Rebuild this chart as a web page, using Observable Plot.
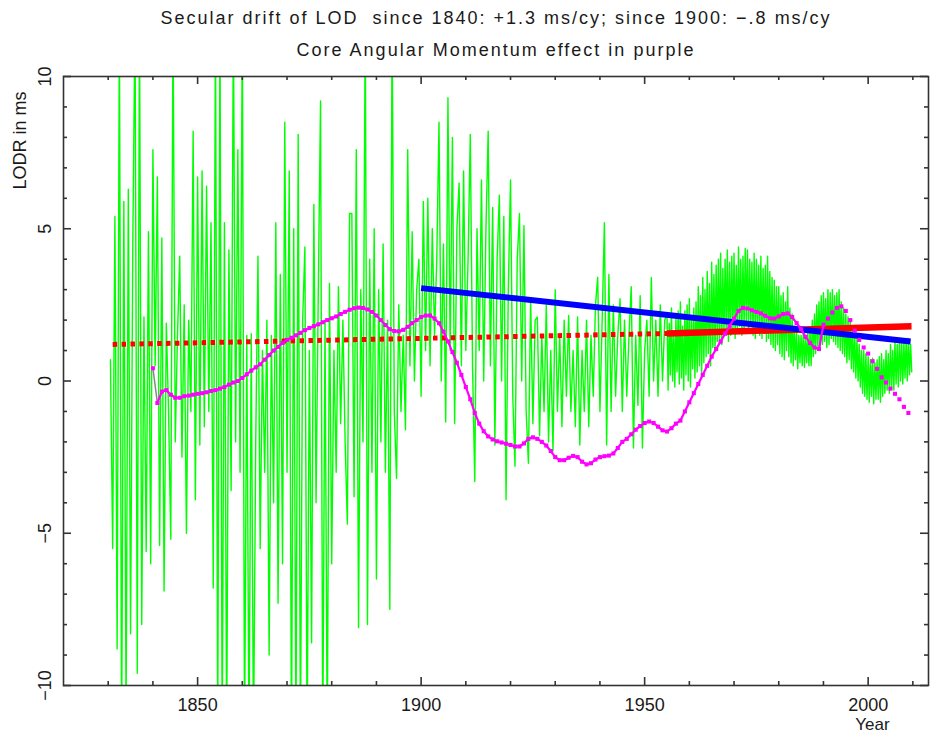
<!DOCTYPE html>
<html><head><meta charset="utf-8">
<script src="https://cdn.jsdelivr.net/npm/d3@7"></script>
<script src="https://cdn.jsdelivr.net/npm/@observablehq/plot@0.6"></script>
<style>body{margin:0;background:#fff;}</style>
</head><body><div id="chart"></div>
<script>
// ---- texts ----
const titleLines = ["Secular drift of LOD\u00a0 since 1840: +1.3 ms/cy; since 1900: \u2212.8 ms/cy",
                    "Core Angular Momentum effect in purple"];
const yLabel = "LODR in ms";
const xLabel = "Year";

// ---- ticks ----
const xMajorTicks = [1850, 1900, 1950, 2000];
const xMinorTicks = [1830, 1840, 1860, 1870, 1880, 1890, 1910, 1920, 1930, 1940, 1960, 1970, 1980, 1990, 2010];
const yMajorTicks = [-10, -5, 0, 5, 10];
const yMinorTicks = [-9, -8, -7, -6, -4, -3, -2, -1, 1, 2, 3, 4, 6, 7, 8, 9];
const yTickLabels = ["\u221210", "\u22125", "0", "5", "10"];

// ---- green LODR series: half-year samples 1830.5 .. 1954.5 ----
const greenEarlyStart = 1830.5, greenEarlyStep = 0.5;
const greenEarly = [
  0.7, -5.5, 5.4, -8.8, 12, -12, 5.9, -11, 6.3, -8.3,
  4.5, 12, -9.6, 12, -8.0, 2.1, -5.6, 4.9, -6.0, 7.6,
  0.5, 6.7, -5.4, 4.7, -6.9, 1.9, -1, -5.2, 12, -2,
  1.5, 4.1, -2.5, 2.5, -5.0, 2.0, -1, 8.2, -3.9, 6.7,
  -2.1, 6.9, -1.5, 6.4, -1, 5.2, -6.8, 12, -12, 12,
  -12, 5.2, -12, 4.3, -3.6, 12, -2, 7.6, -3, 12,
  -12, 1.5, -12, 1.55, -12, -2, 4.1, -5.5, 1, -3,
  2.0, -9.0, 1.5, -4, 5.2, -7.3, 3.5, -6.0, 8.5, -3,
  6.9, -12, 5.0, -12, 8.1, -12, 2, 4.4, -12, 1,
  -8.6, 5.8, -4, 3, 9.2, -12, 2, -12, 3.2, -6,
  1, -3, 3.1, -1.4, 2, -2, -4.7, 5.5, 5.5, -3.8,
  7.6, -8.1, 3, -2, 12, -8.0, 4, -3, 5, -6.5,
  3, -2, 4.5, -3.0, 2, -7.5, 12, -1, -3.2, 2.5,
  -1, 1.5, -1.6, 7.6, 0.5, 4.9, 0, 3, 4.0, -0.5,
  5.9, 1, 6.0, 0.5, 5, 1.5, 4, 8.5, 0, 4.5,
  -1.35, 9.3, 1, 8.0, -1.4, 5, 6.5, 0.5, 6.9, 1,
  4, 8.1, 0.5, -3.3, 5, 1, 6.6, 0, 5, 8.2,
  0.5, 5.7, -2.1, 4, 6.1, 0, 5.4, -3.9, 3, 6.6,
  -0.5, -2.8, 4, 5.5, 0, 5.1, -1, -2.7, 2.7, -1.4,
  2, 2.1, -1.8, 1.5, -1, 2.5, -2, 1, -2.3, 3.0,
  -1, 1.5, -1.5, 2, -0.5, 2.15, -1, 1, -1.5, 2.1,
  -2.1, 1, -1, 2, -1.5, 1.5, -0.5, 2.5, 3.4, -1,
  2, 5.2, -2.1, 3.5, -1, 2.5, -0.5, 1.5, 2.7, -1,
  2, -0.5, 1.5, 3.1, -2.2, 1.5, -0.8, 2.8, -2.2, 1,
  2.0, -0.5, 3.4, 0, 2, -0.5, 2.5, 0, 2
];
// ---- green LODR series: quarter-year samples 1955.0 .. 2009.75 ----
const greenLateStart = 1955, greenLateStep = 0.25;
const greenLate = [
  2.2, -0.3, 1.9, 0.2,   2.4, 0.0, 1.6, -0.2,   2.1, 0.3, 2.3, -0.1,   2.6, 0.1, 1.8, -0.3,   2.3, 0.2, 2.5, 0.0,
  2.7, -0.2, 2.0, 0.4,   2.4, 0.1, 2.6, 0.3,    3.1, 0.5, 2.8, 0.2,    3.4, 0.6, 3.0, 0.8,    3.6, 0.9, 3.2, 0.5,
  3.9, 1.1, 3.5, 1.0,    3.8, 1.3, 4.0, 1.2,    4.2, 1.2, 3.7, 1.5,    4.0, 1.6, 4.3, 1.3,    3.9, 1.5, 4.1, 1.7,
  4.2, 1.4, 3.8, 1.6,    4.4, 1.8, 4.0, 1.5,    4.1, 1.7, 4.35, 1.9,   4.3, 1.6, 4.0, 1.8,    3.9, 1.5, 4.2, 1.4,
  4.0, 1.7, 3.8, 1.5,    4.1, 1.4, 3.7, 1.6,    3.8, 1.3, 4.1, 1.4,    3.6, 1.2, 3.4, 1.1,    3.3, 1.0, 3.1, 1.2,
  3.1, 0.9, 2.8, 0.8,    2.9, 0.7, 2.6, 1.0,    3.1, 0.8, 2.4, 0.6,    2.2, 0.5, 1.8, 0.7,    1.6, 0.4, 1.5, 0.6,
  1.5, 0.5, 1.7, 0.45,   1.4, 0.6, 1.6, 0.5,    1.7, 0.5, 2.0, 0.8,    2.2, 0.9, 2.5, 1.1,    2.6, 1.0, 2.8, 1.2,
  2.9, 1.3, 2.7, 1.1,    3.0, 1.2, 2.9, 1.4,    3.0, 1.3, 2.8, 1.2,    2.9, 1.1, 3.0, 1.0,    2.6, 0.9, 2.4, 0.8,
  2.2, 0.6, 2.1, 0.7,    2.0, 0.4, 1.7, 0.3,    1.6, 0.1, 1.4, 0.0,    1.2, -0.2, 1.0, -0.4,  1.0, -0.5, 0.9, -0.6,
  0.8, -0.7, 0.7, -0.5,  0.75, -0.75, 0.6, -0.6, 0.7, -0.6, 0.8, -0.7, 0.9, -0.5, 0.7, -0.4, 1.0, -0.3, 0.9, -0.4,
  1.2, -0.2, 1.0, -0.3,  1.3, -0.1, 1.2, -0.2,  1.4, 0.0, 1.3, -0.1,   1.3, 0.1, 1.4, 0.0,    1.4, 0.2, 1.2, 0.3
];

// ---- core angular momentum effect (purple), yearly 1840..2009 ----
const camStart = 1840;
const camValues = [
  0.42, -0.72, -0.35, -0.3, -0.45, -0.55, -0.55, -0.5, -0.48, -0.45,
  -0.42, -0.4, -0.37, -0.33, -0.3, -0.25, -0.2, -0.12, -0.05, 0.0,
  0.1, 0.22, 0.34, 0.45, 0.55, 0.7, 0.85, 1.0, 1.12, 1.25,
  1.35, 1.42, 1.5, 1.58, 1.67, 1.74, 1.8, 1.86, 1.93, 2.0,
  2.06, 2.12, 2.2, 2.27, 2.34, 2.39, 2.41, 2.4, 2.35, 2.27,
  2.15, 2.0, 1.84, 1.7, 1.64, 1.63, 1.68, 1.78, 1.9, 2.0,
  2.1, 2.15, 2.15, 2.05, 1.9, 1.62, 1.3, 0.95, 0.6, 0.2,
  -0.2, -0.6, -1.05, -1.4, -1.65, -1.82, -1.92, -1.98, -2.02, -2.06,
  -2.1, -2.15, -2.15, -2.05, -1.9, -1.85, -1.9, -2.0, -2.12, -2.3,
  -2.5, -2.6, -2.6, -2.52, -2.46, -2.5, -2.65, -2.74, -2.7, -2.58,
  -2.5, -2.47, -2.45, -2.38, -2.2, -2.0, -1.9, -1.75, -1.6, -1.48,
  -1.38, -1.33, -1.38, -1.5, -1.62, -1.66, -1.55, -1.4, -1.3, -1.0,
  -0.7, -0.4, -0.1, 0.2, 0.5, 0.8, 1.05, 1.3, 1.55, 1.8,
  2.05, 2.3, 2.4, 2.38, 2.32, 2.27, 2.22, 2.14, 2.06, 2.05,
  2.12, 2.2, 2.22, 2.1, 1.9, 1.7, 1.45, 1.25, 1.1, 1.05,
  1.85, 2.05, 2.25, 2.4, 2.45, 2.3, 2.0, 1.65, 1.35, 1.1,
  0.9, 0.65, 0.4, 0.12, -0.05, -0.25, -0.42, -0.6, -0.85, -1.05
];
const camLineEnd = 1990;

// ---- secular drift trend lines ----
const redDottedYears = [1831, 1955];
const redDottedValues = [1.2, 1.56];
const redSolidYears = [1955, 2009.7];
const redSolidValues = [1.56, 1.8];
const blueYears = [1900, 2009.5];
const blueValues = [3.05, 1.3];

// ---- build tables ----
const green = [
  ...greenEarly.map((v, i) => ({year: greenEarlyStart + i * greenEarlyStep, v})),
  ...greenLate.map((v, i) => ({year: greenLateStart + i * greenLateStep, v}))
];
const cam = camValues.map((v, i) => ({year: camStart + i, v}));
const pairs = (xs, ys) => xs.map((x, i) => ({year: x, v: ys[i]}));
const redDotted = pairs(redDottedYears, redDottedValues);
const redSolid = pairs(redSolidYears, redSolidValues);
const blue = pairs(blueYears, blueValues);

const W = 930, H = 734, mL = 63, mR = 2, mT = 76, mB = 49;
const yMin = yMajorTicks[0], yMax = yMajorTicks[yMajorTicks.length - 1];
const xMin = 1820, xMax = 2013.5;
const majorLen = 8, minorLen = 4;
const axisColor = "#333";
const txt = "#1a1a1a";
const tickStyle = {stroke: axisColor, strokeWidth: 1.6, strokeLinecap: "butt"};
const label = {fontSize: 18, fill: txt, textAnchor: "middle", lineAnchor: "middle"};

const plot = Plot.plot({
  width: W, height: H,
  marginLeft: mL, marginRight: mR, marginTop: mT, marginBottom: mB,
  x: {domain: [xMin, xMax], axis: null},
  y: {domain: [yMin, yMax], axis: null},
  style: {fontFamily: "'Liberation Sans', Arial, sans-serif", background: "#fff", overflow: "visible"},
  marks: [
    Plot.line(green, {x: "year", y: "v", stroke: "#00ff00", strokeWidth: 1.4, clip: true}),
    Plot.line(redDotted, {x: "year", y: "v", stroke: "#ff0000", strokeWidth: 5, strokeDasharray: "4.5,4.4", strokeLinecap: "butt"}),
    Plot.line(redSolid, {x: "year", y: "v", stroke: "#ff0000", strokeWidth: 6.5, strokeLinecap: "butt"}),
    Plot.line(blue, {x: "year", y: "v", stroke: "#0000ff", strokeWidth: 6, strokeLinecap: "butt"}),
    Plot.line(cam.slice(0, 2), {x: "year", y: "v", stroke: "#888", strokeWidth: 1.5}),
    Plot.line(cam.filter(d => d.year >= camStart + 1 && d.year <= camLineEnd), {x: "year", y: "v", stroke: "#ff00ff", strokeWidth: 2.2}),
    Plot.dot(cam, {x: "year", y: "v", symbol: "square", r: 2.3, fill: "#ff00ff", stroke: "none"}),
    Plot.frame({stroke: axisColor, strokeWidth: 1.6}),
    // bottom ticks (inward)
    Plot.ruleX(xMajorTicks, {x: d => d, y1: () => yMin, y2: () => yMin, insetTop: -majorLen, ...tickStyle}),
    Plot.ruleX(xMinorTicks, {x: d => d, y1: () => yMin, y2: () => yMin, insetTop: -minorLen, ...tickStyle}),
    // top ticks
    Plot.ruleX(xMajorTicks, {x: d => d, y1: () => yMax, y2: () => yMax, insetBottom: -majorLen, ...tickStyle}),
    Plot.ruleX(xMinorTicks, {x: d => d, y1: () => yMax, y2: () => yMax, insetBottom: -minorLen, ...tickStyle}),
    // left ticks
    Plot.ruleY(yMajorTicks, {y: d => d, x1: () => xMin, x2: () => xMin, insetRight: -majorLen, ...tickStyle}),
    Plot.ruleY(yMinorTicks, {y: d => d, x1: () => xMin, x2: () => xMin, insetRight: -minorLen, ...tickStyle}),
    // right ticks
    Plot.ruleY(yMajorTicks, {y: d => d, x1: () => xMax, x2: () => xMax, insetLeft: -majorLen, ...tickStyle}),
    Plot.ruleY(yMinorTicks, {y: d => d, x1: () => xMax, x2: () => xMax, insetLeft: -minorLen, ...tickStyle}),
    // tick labels
    Plot.text(xMajorTicks, {x: d => d, frameAnchor: "bottom", dy: 20, text: d => String(d), ...label}),
    Plot.text(yMajorTicks, {y: d => d, frameAnchor: "left", dx: -18, rotate: -90, text: (d, i) => yTickLabels[i], ...label}),
    // axis titles
    Plot.text([yLabel], {frameAnchor: "top-left", dx: -43, dy: 64, rotate: -90, text: d => d, ...label}),
    Plot.text([xLabel], {frameAnchor: "bottom-right", dx: -56, dy: 39.5, text: d => d, ...label, fontSize: 17}),
    // titles
    Plot.text([titleLines[0]], {frameAnchor: "top", dy: -58, text: d => d, ...label}),
    Plot.text([titleLines[1]], {frameAnchor: "top", dy: -26, text: d => d, ...label})
  ]
});
d3.select(plot).selectAll("text").filter(function() { return titleLines.includes(this.textContent); })
  .style("letter-spacing", "2px");
document.getElementById("chart").append(plot);
</script></body></html>
